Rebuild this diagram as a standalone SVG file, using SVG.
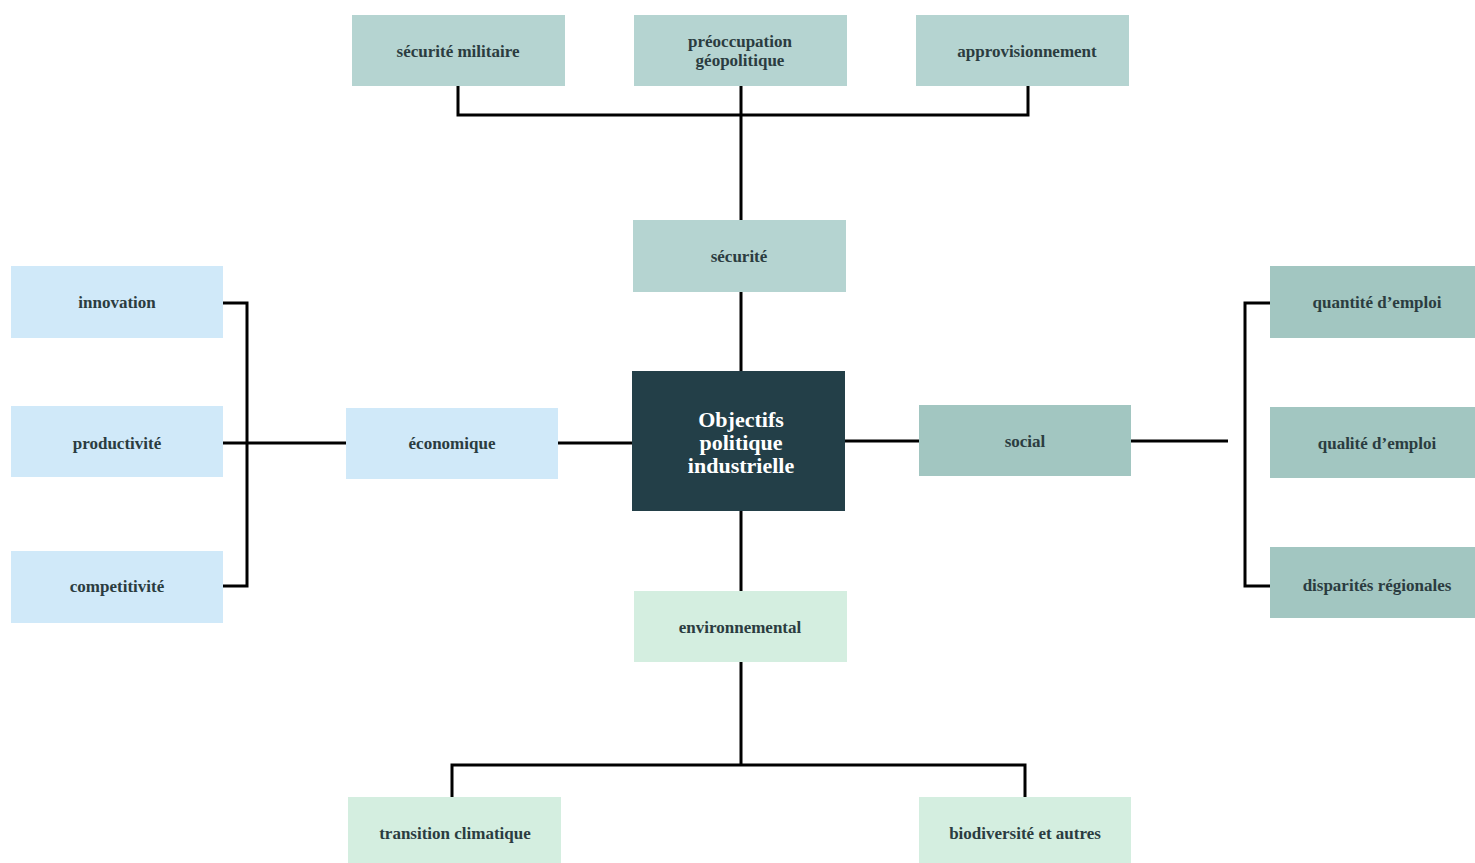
<svg xmlns="http://www.w3.org/2000/svg" width="1475" height="863" viewBox="0 0 1475 863">
<style>
.t{font-family:"Liberation Serif",serif;font-size:17px;font-weight:bold;fill:#2b3c40;text-anchor:middle;dominant-baseline:central}
.c{font-family:"Liberation Serif",serif;font-size:22px;font-weight:bold;fill:#ffffff;text-anchor:middle;dominant-baseline:central}
.sec{fill:#b5d4d1}
.soc{fill:#a2c6c1}
.eco{fill:#d0e9f9}
.env{fill:#d4eee0}
.ln{fill:none;stroke:#000;stroke-width:3}
</style>
<rect width="1475" height="863" fill="#ffffff"/>
<g id="connectors">
<path class="ln" d="M458 86V115H1028V86M741 86V220M741 292V371M741 511V591M741 662V765M452 797V765H1025V797"/>
<path class="ln" d="M223 303H247V586H223M223 443H346M558 443H632"/>
<path class="ln" d="M845 441H919M1131 441H1228M1270 303H1245V586H1270"/>
</g>
<g id="n-secmil"><rect class="sec" x="352" y="15" width="213" height="71"/><text class="t" x="458" y="51">sécurité militaire</text></g>
<g id="n-geo"><rect class="sec" x="634" y="15" width="213" height="71"/><text class="t" x="740" y="41">préoccupation</text><text class="t" x="740" y="60">géopolitique</text></g>
<g id="n-appro"><rect class="sec" x="916" y="15" width="213" height="71"/><text class="t" x="1027" y="51">approvisionnement</text></g>
<g id="n-securite"><rect class="sec" x="633" y="220" width="213" height="72"/><text class="t" x="739" y="256">sécurité</text></g>
<g id="n-center"><rect x="632" y="371" width="213" height="140" fill="#233f48"/><text class="c" x="741" y="419">Objectifs</text><text class="c" x="741" y="442">politique</text><text class="c" x="741" y="465">industrielle</text></g>
<g id="n-eco"><rect class="eco" x="346" y="408" width="212" height="71"/><text class="t" x="452" y="443">économique</text></g>
<g id="n-innov"><rect class="eco" x="11" y="266" width="212" height="72"/><text class="t" x="117" y="302">innovation</text></g>
<g id="n-prod"><rect class="eco" x="11" y="406" width="212" height="71"/><text class="t" x="117" y="443">productivité</text></g>
<g id="n-comp"><rect class="eco" x="11" y="551" width="212" height="72"/><text class="t" x="117" y="586">competitivité</text></g>
<g id="n-social"><rect class="soc" x="919" y="405" width="212" height="71"/><text class="t" x="1025" y="441">social</text></g>
<g id="n-quant"><rect class="soc" x="1270" y="266" width="205" height="72"/><text class="t" x="1377" y="302">quantité d’emploi</text></g>
<g id="n-qual"><rect class="soc" x="1270" y="407" width="205" height="71"/><text class="t" x="1377" y="443">qualité d’emploi</text></g>
<g id="n-disp"><rect class="soc" x="1270" y="547" width="205" height="71"/><text class="t" x="1377" y="585">disparités régionales</text></g>
<g id="n-env"><rect class="env" x="634" y="591" width="213" height="71"/><text class="t" x="740" y="627">environnemental</text></g>
<g id="n-clim"><rect class="env" x="348" y="797" width="213" height="66"/><text class="t" x="455" y="833">transition climatique</text></g>
<g id="n-bio"><rect class="env" x="919" y="797" width="212" height="66"/><text class="t" x="1025" y="833">biodiversité et autres</text></g>
</svg>
